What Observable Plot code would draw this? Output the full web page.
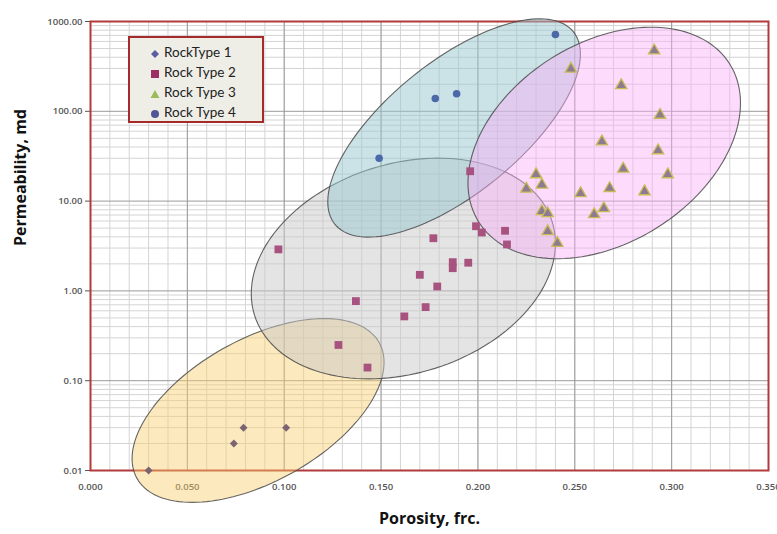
<!DOCTYPE html>
<html>
<head>
<meta charset="utf-8">
<script src="https://cdn.jsdelivr.net/npm/d3@7"></script>
<script src="https://cdn.jsdelivr.net/npm/@observablehq/plot@0.6"></script>
<style>
  body { margin: 0; background: #fff; }
  #wrap { position: relative; width: 777px; height: 534px; font-family: "Open Sans", sans-serif; }
  #legend {
    position: absolute; left: 128px; top: 36px; width: 132px; height: 83px;
    background: #efeee6; border: 2px solid #a52a2a; box-sizing: content-box;
    font-family: Lato, "Open Sans", sans-serif; font-size: 13.5px; color: #222;
  }
  #legend .row { position: absolute; left: 20px; height: 20px; line-height: 20px; white-space: nowrap; }
  #legend svg { vertical-align: middle; margin-right: 4px; }
</style>
</head>
<body>
<div id="wrap"><div id="legend"></div></div>
<script>
// Core samples: porosity (fraction) and permeability (md) by rock type
const rt1Porosity = [0.030, 0.074, 0.079, 0.101];
const rt1Perm     = [0.010, 0.020, 0.030, 0.030];

const rt2Porosity = [0.097, 0.128, 0.137, 0.143, 0.162, 0.170, 0.173, 0.177, 0.179, 0.187, 0.187, 0.195, 0.196, 0.199, 0.202, 0.214, 0.215];
const rt2Perm     = [2.9,   0.25,  0.77,  0.14,  0.52,  1.51,  0.66,  3.86,  1.12,  2.09,  1.79,  2.06,  21.5,  5.25,  4.47,  4.67,  3.29];

const rt3Porosity = [0.291, 0.248, 0.274, 0.294, 0.264, 0.293, 0.275, 0.298, 0.230, 0.233, 0.225, 0.253, 0.268, 0.286, 0.265, 0.260, 0.233, 0.236, 0.236, 0.241];
const rt3Perm     = [475,   297,   194,   91,    46,    36.6,  22.9,  19.8,  19.8,  15.2,  13.7,  12.2,  13.9,  12.8,  8.3,   7.1,   7.7,   7.3,   4.6,   3.4];

const rt4Porosity = [0.149, 0.178, 0.189, 0.240];
const rt4Perm     = [30,    139,   157,   716];

const seriesNames = ["RockType 1", "Rock Type 2", "Rock Type 3", "Rock Type 4"];

// Cluster envelopes: centre, end of the long radius, end of the short radius
const envNames     = ["rt1", "rt2", "rt4", "rt3"];
const envCenterPhi = [0.0865, 0.1615, 0.1877, 0.2652];
const envCenterK   = [0.0466, 1.776,  65.2,   44.4];
const envMajorPhi  = [0.1490, 0.2383, 0.2493, 0.3299];
const envMajorK    = [0.266,  5.91,   767,    339];
const envMinorPhi  = [0.0685, 0.1452, 0.1663, 0.2376];
const envMinorK    = [0.228,  23.0,   245,    386];
const envFill      = ["#f8cf6c", "#c9c9c9", "#97c6d0", "#fbb0f8"];
const envOpacity   = [0.45, 0.5, 0.5, 0.45];

const xTickValues = [0, 0.05, 0.10, 0.15, 0.20, 0.25, 0.30, 0.35];
const yTickValues = [0.01, 0.1, 1, 10, 100, 1000];

const toRows = (phi, k) => phi.map((p, i) => ({porosity: p, perm: k[i]}));
const rt1 = toRows(rt1Porosity, rt1Perm);
const rt2 = toRows(rt2Porosity, rt2Perm);
const rt3 = toRows(rt3Porosity, rt3Perm);
const rt4 = toRows(rt4Porosity, rt4Perm);

// Outline of each envelope, traced in (porosity, log10 k) space
function envelope(i) {
  const c = [envCenterPhi[i], Math.log10(envCenterK[i])];
  const u = [envMajorPhi[i] - c[0], Math.log10(envMajorK[i]) - c[1]];
  const v = [envMinorPhi[i] - c[0], Math.log10(envMinorK[i]) - c[1]];
  return d3.range(0, 145).map(j => {
    const t = (j / 144) * 2 * Math.PI;
    return {
      porosity: c[0] + Math.cos(t) * u[0] + Math.sin(t) * v[0],
      perm: Math.pow(10, c[1] + Math.cos(t) * u[1] + Math.sin(t) * v[1])
    };
  });
}

const minorX = d3.range(0, 36).map(i => i / 100);
const minorY = [];
for (const e of [-2, -1, 0, 1, 2]) for (let m = 2; m <= 9; m++) minorY.push(m * Math.pow(10, e));

const envMarks = envNames.map((_, i) =>
  Plot.line(envelope(i), {x: "porosity", y: "perm", curve: "linear-closed",
    fill: envFill[i], fillOpacity: envOpacity[i], stroke: "#4a4a4a", strokeWidth: 1.1, strokeOpacity: 0.85})
);

const chart = Plot.plot({
  width: 777,
  height: 534,
  marginLeft: 90,
  marginRight: 9,
  marginTop: 21,
  marginBottom: 64,
  style: {background: "transparent", fontFamily: "'Open Sans', sans-serif"},
  x: {domain: [0, 0.35]},
  y: {type: "log", domain: [0.01, 1000]},
  marks: [
    Plot.gridX(minorX, {stroke: "#d4d4d4", strokeOpacity: 1, strokeWidth: 1}),
    Plot.gridY(minorY, {stroke: "#d4d4d4", strokeOpacity: 1, strokeWidth: 1}),
    Plot.gridX(xTickValues, {stroke: "#9a9a9a", strokeOpacity: 1, strokeWidth: 1}),
    Plot.gridY(yTickValues, {stroke: "#9a9a9a", strokeOpacity: 1, strokeWidth: 1}),
    Plot.axisY({ticks: yTickValues, tickFormat: d3.format(".2f"), tickSize: 5, tickPadding: 3,
      label: null, fontSize: 9.5, fontWeight: 600, color: "#555"}),
    Plot.axisX({ticks: xTickValues, tickFormat: d3.format(".3f"), tickSize: 0, tickPadding: 13,
      label: null, fontSize: 9.5, fontWeight: 600, color: "#555"}),
    Plot.frame({stroke: "#b23a3a", strokeWidth: 2}),
    ...envMarks,
    Plot.dot(rt1, {x: "porosity", y: "perm", symbol: "diamond2", r: 3.6, fill: "#7a6472", stroke: "none"}),
    Plot.dot(rt2, {x: "porosity", y: "perm", symbol: "square", r: 4.4, fill: "#a8527f", stroke: "none"}),
    Plot.dot(rt3, {x: "porosity", y: "perm", symbol: "triangle", r: 4.2, fill: "#8d7b92", stroke: "#c9bb55", strokeWidth: 1.3}),
    Plot.dot(rt4, {x: "porosity", y: "perm", r: 3.8, fill: "#4b69a9", stroke: "none"}),
    Plot.text(["Porosity, frc."], {frameAnchor: "bottom", dy: 53, fontSize: 16, fontWeight: "bold", fill: "#111"}),
    Plot.text(["Permeability, md"], {frameAnchor: "left", dx: -70, rotate: -90, fontSize: 16, fontWeight: "bold", fill: "#111"})
  ]
});
document.getElementById("wrap").prepend(chart);

// Legend
const legendSymbols = [
  '<svg width="10" height="10"><path d="M5 1L9 5L5 9L1 5Z" fill="#5b5da3"/></svg>',
  '<svg width="10" height="10"><rect x="1" y="1" width="8" height="8" fill="#9b2f66"/></svg>',
  '<svg width="10" height="10"><path d="M5 1L9.5 9H0.5Z" fill="#9bbb59"/></svg>',
  '<svg width="10" height="10"><circle cx="5" cy="5" r="4" fill="#4f5795"/></svg>'
];
const legend = document.getElementById("legend");
seriesNames.forEach((name, i) => {
  const row = document.createElement("div");
  row.className = "row";
  row.style.top = (4 + i * 20) + "px";
  row.innerHTML = legendSymbols[i];
  row.appendChild(document.createTextNode(name));
  legend.appendChild(row);
});
</script>
</body>
</html>
